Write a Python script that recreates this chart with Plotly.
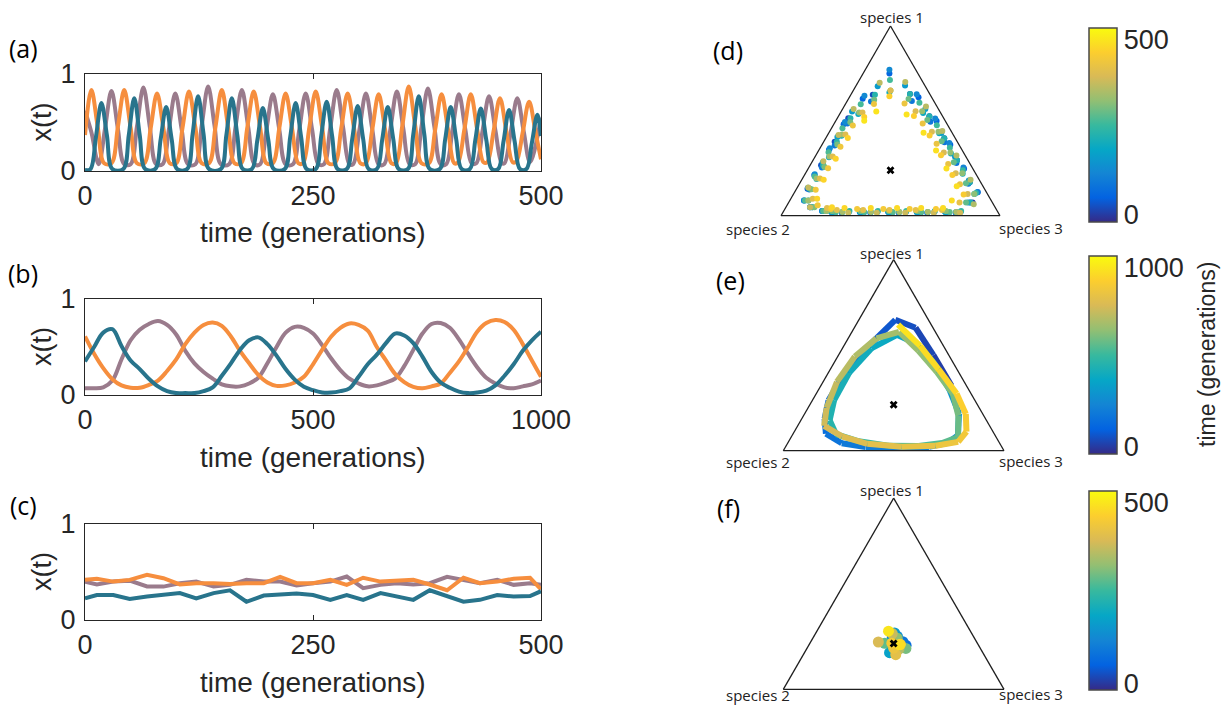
import plotly.graph_objects as go

W, H = 1227, 706

# ---------------- panel (a): time series, 500 generations ----------------
a_purple_t = [0, 7, 15, 22, 29, 36, 43, 50, 57, 64, 71, 78, 85, 92, 99, 106, 113, 121, 128, 135, 142, 149,
              158, 165, 172, 179, 186, 192, 199, 206, 213, 220, 228, 235, 242, 249, 256, 262, 269, 276, 283,
              290, 294, 301, 308, 315, 322, 328, 335, 342, 349, 356, 362, 369, 376, 383, 390, 396, 403, 410,
              417, 424, 429, 436, 443, 450, 457, 460, 467, 474, 481, 488, 500]
a_purple_v = [.62, .40, .07, .44, .825, .44, .07, .07, .46, .86, .46, .07, .07, .43, .80, .43, .07, .07, .47, .87,
              .47, .07, .07, .45, .835, .45, .07, .07, .43, .79, .43, .07, .07, .43, .80, .43, .07, .07, .45, .835,
              .45, .07, .07, .43, .80, .43, .07, .07, .44, .82, .44, .07, .07, .46, .85, .46, .07, .07, .43, .79,
              .43, .08, .08, .42, .77, .42, .08, .08, .41, .75, .41, .09, .55]

a_orange_t = [0, 7, 14, 21, 29, 36, 43, 50, 57, 65, 72, 79, 86, 93, 100, 107, 114, 121, 128, 136, 143, 150,
              157, 164, 171, 178, 185, 192, 199, 206, 213, 220, 227, 234, 239, 246, 253, 260, 267, 274, 281,
              288, 295, 302, 308, 315, 322, 329, 336, 341, 348, 355, 362, 369, 377, 384, 391, 398, 405, 409,
              416, 423, 430, 437, 441, 448, 455, 462, 469, 473, 480, 487, 494, 500]
a_orange_v = [.37, .835, .45, .08, .08, .45, .835, .45, .08, .08, .44, .80, .44, .08, .08, .45, .82, .45, .08,
              .08, .45, .835, .45, .08, .08, .45, .82, .45, .08, .08, .44, .80, .44, .08, .08, .45, .82, .45,
              .08, .08, .44, .80, .44, .08, .08, .43, .79, .43, .08, .08, .47, .87, .47, .08, .08, .43, .79,
              .43, .08, .09, .43, .79, .43, .09, .09, .41, .75, .41, .09, .10, .40, .715, .40, .12]

a_teal_t = [0, 6, 12, 18, 24, 30, 42, 48, 54, 60, 66, 77, 83, 89, 95, 101, 112, 118, 124, 130, 136, 149, 155,
            161, 167, 173, 183, 189, 195, 201, 207, 219, 225, 231, 237, 243, 253, 259, 265, 271, 277, 287,
            293, 299, 305, 311, 320, 326, 332, 338, 344, 354, 360, 366, 372, 378, 389, 395, 401, 407, 413,
            422, 428, 434, 440, 446, 453, 459, 465, 471, 477, 484, 490, 496, 500]
a_teal_v = [.01, .02, .35, .70, .37, .02, .02, .37, .75, .37, .02, .02, .33, .66, .33, .02, .02, .38, .77, .38,
            .02, .02, .37, .75, .37, .02, .02, .32, .65, .32, .02, .02, .35, .70, .35, .02, .02, .36, .715,
            .36, .02, .02, .33, .67, .33, .02, .02, .33, .66, .33, .02, .02, .38, .77, .38, .02, .02, .33,
            .66, .33, .02, .02, .32, .645, .32, .02, .02, .31, .63, .31, .02, .02, .29, .58, .36]

# ---------------- panel (b): time series, 1000 generations ----------------
b_t = [0, 20, 40, 60, 80, 100, 120, 140, 160, 180, 200, 220, 240, 260, 280, 300, 320, 340, 360, 380, 400,
       420, 440, 460, 480, 500, 520, 540, 560, 580, 600, 620, 640, 660, 680, 700, 720, 740, 760, 780, 800,
       820, 840, 860, 880, 900, 920, 940, 960, 980, 1000]
b_teal = [.35, .50, .65, .685, .51, .36, .27, .17, .09, .04, .02, .02, .02, .04, .08, .20, .33, .47, .57, .60,
          .53, .41, .27, .16, .085, .05, .027, .025, .04, .07, .19, .32, .42, .54, .64, .62, .54, .40, .24,
          .13, .075, .035, .02, .025, .045, .10, .20, .32, .46, .57, .66]
b_orange = [.61, .43, .28, .165, .10, .075, .075, .105, .15, .25, .37, .53, .65, .73, .755, .72, .61, .46, .33,
            .21, .13, .095, .10, .13, .19, .32, .47, .61, .70, .745, .73, .67, .50, .36, .22, .135, .085, .07,
            .09, .12, .23, .35, .50, .66, .75, .78, .76, .68, .53, .36, .19]
b_purple = [.07, .07, .08, .15, .37, .57, .68, .74, .77, .73, .63, .46, .33, .24, .17, .11, .09, .09, .12, .18,
            .33, .50, .65, .71, .70, .64, .52, .38, .26, .17, .12, .09, .10, .13, .17, .30, .47, .64, .74,
            .75, .70, .58, .43, .29, .18, .12, .08, .07, .09, .11, .15]

# ---------------- panel (c): time series, 500 generations ----------------
c_t = [0, 13, 31, 49, 68, 86, 104, 122, 141, 159, 177, 196, 214, 232, 250, 269, 287, 305, 324, 342, 360,
       378, 397, 415, 433, 452, 470, 488, 500]
c_teal = [.225, .26, .26, .22, .245, .26, .28, .225, .28, .31, .19, .255, .27, .275, .26, .21, .26, .21, .28,
          .245, .21, .31, .25, .19, .21, .26, .245, .25, .30]
c_orange = [.418, .43, .40, .418, .47, .435, .37, .383, .383, .375, .383, .383, .45, .383, .383, .418, .366,
            .44, .40, .405, .418, .37, .31, .44, .383, .40, .43, .44, .32]
c_purple = [.40, .37, .40, .41, .35, .348, .383, .40, .348, .366, .42, .40, .40, .36, .383, .40, .453, .331,
            .366, .383, .37, .383, .45, .42, .383, .418, .366, .383, .366]

# ---------------- panel (d): sampled states (time, species 1, species 3) ----------------
d_t = [7, 9, 11, 14, 16, 18, 20, 22, 25, 27, 29, 31, 33, 35, 37, 39, 41,
       44, 46, 49, 51, 53, 55, 57, 60, 62, 64, 66, 68, 69, 71, 73, 75, 77,
       79, 81, 83, 86, 88, 90, 92, 94, 97, 99, 101, 103, 105, 107, 109, 111, 113,
       115, 117, 120, 122, 124, 126, 128, 131, 133, 135, 137, 139, 140, 142, 144, 146, 148,
       150, 152, 154, 157, 159, 161, 163, 165, 168, 170, 172, 174, 176, 178, 180, 182, 184,
       186, 188, 191, 193, 195, 197, 199, 202, 204, 206, 208, 210, 211, 213, 215, 217, 219,
       220, 222, 224, 227, 229, 231, 233, 235, 238, 240, 242, 244, 245, 247, 249, 250, 252,
       254, 256, 259, 261, 263, 265, 267, 270, 272, 274, 276, 278, 279, 281, 283, 285, 287,
       288, 290, 292, 295, 297, 299, 301, 303, 306, 308, 310, 312, 313, 315, 317, 319, 321,
       323, 325, 327, 329, 331, 333, 335, 337, 339, 341, 343, 345, 346, 348, 350, 352, 354,
       355, 357, 359, 362, 364, 366, 368, 370, 373, 375, 377, 379, 380, 382, 384, 386, 389,
       392, 394, 396, 398, 400, 402, 404, 406, 408, 410, 412, 414, 415, 417, 419, 420, 422,
       423, 425, 427, 429, 431, 433, 435, 437, 439, 441, 443, 445, 446, 448, 450, 452, 454,
       456, 458, 460, 462, 464, 466, 468, 470, 472, 474, 476, 478, 479, 481, 483, 484, 486,
       487, 489, 491, 493, 495, 497, 499, 500]
d_s1 = [.07, .176, .293, .409, .525, .642, .638, .514, .39, .266, .142, .045, .02, .02, .02, .02, .02,
        .123, .248, .374, .499, .624, .75, .616, .482, .348, .214, .08, .025, .015, .015, .015, .015, .015,
        .07, .169, .278, .387, .496, .605, .602, .486, .37, .254, .138, .045, .02, .02, .02, .02, .02,
        .125, .254, .383, .512, .641, .77, .632, .494, .356, .218, .08, .025, .015, .015, .015, .015, .015,
        .07, .185, .311, .436, .562, .687, .683, .549, .415, .281, .147, .045, .02, .02, .02, .02, .02,
        .114, .221, .328, .435, .542, .65, .536, .422, .308, .194, .08, .025, .02, .02, .02, .02, .02,
        .07, .176, .293, .409, .525, .642, .638, .514, .39, .266, .142, .045, .025, .025, .025, .025, .025,
        .12, .239, .358, .477, .596, .715, .588, .461, .334, .207, .08, .025, .02, .02, .02, .02, .02,
        .07, .171, .282, .393, .504, .615, .611, .493, .375, .257, .139, .045, .025, .025, .025, .025, .025,
        .115, .224, .333, .442, .551, .66, .544, .428, .312, .196, .08, .025, .02, .02, .02, .02, .02,
        .06, .189, .318, .447, .576, .705, .701, .563, .425, .287, .149, .045, .015, .015, .015, .015, .015,
        .115, .224, .333, .442, .551, .66, .544, .428, .312, .196, .09, .04, .03, .03, .03, .03, .03,
        .07, .166, .273, .379, .486, .592, .589, .476, .363, .25, .137, .055, .035, .035, .035, .035, .035,
        .112, .215, .319, .423, .526, .63, .52, .41, .30, .19, .09, .045, .04, .04, .04, .04, .04,
        .08, .155, .249, .344, .438, .533, .55, .50]
d_s3 = [.84, .774, .657, .541, .415, .268, .10, .05, .05, .05, .05, .11, .22, .35, .48, .61, .74,
        .837, .712, .586, .461, .316, .12, .065, .045, .045, .045, .065, .175, .27, .40, .53, .66, .79,
        .82, .771, .662, .553, .434, .295, .11, .06, .06, .06, .06, .12, .30, .43, .56, .69, .81,
        .835, .706, .577, .448, .299, .11, .065, .045, .045, .045, .065, .175, .24, .37, .50, .63, .76,
        .83, .765, .639, .514, .378, .223, .10, .05, .05, .05, .05, .11, .22, .35, .48, .61, .74,
        .826, .719, .612, .505, .378, .17, .085, .065, .065, .065, .085, .195, .27, .40, .53, .66, .79,
        .83, .774, .657, .541, .415, .268, .11, .06, .06, .06, .06, .12, .30, .43, .56, .69, .81,
        .83, .711, .592, .473, .334, .14, .07, .05, .05, .05, .07, .18, .24, .37, .50, .63, .76,
        .81, .759, .648, .537, .416, .275, .12, .07, .07, .07, .07, .13, .22, .35, .48, .61, .74,
        .825, .716, .607, .498, .369, .17, .085, .065, .065, .065, .085, .195, .27, .40, .53, .66, .79,
        .85, .771, .642, .513, .374, .215, .10, .05, .05, .05, .05, .11, .30, .43, .56, .69, .81,
        .795, .686, .577, .468, .339, .17, .10, .08, .08, .08, .10, .19, .24, .36, .48, .60, .72,
        .78, .734, .627, .521, .404, .268, .13, .09, .09, .09, .09, .14, .21, .33, .45, .57, .69,
        .778, .675, .571, .467, .344, .18, .12, .10, .10, .10, .12, .21, .27, .39, .51, .62, .72,
        .74, .725, .631, .536, .432, .307, .16, .13]

# interior fixed point (species 1, species 2, species 3)
fixed_point = [0.24, 0.38, 0.38]

tick_a = [0, 250, 500]
tick_b = [0, 500, 1000]
tick_c = [0, 250, 500]

# ---------------- styles ----------------
C_PURPLE = '#9a7b8c'
C_ORANGE = '#f68e3e'
C_TEAL = '#28748c'
AX = '#262626'
FONT = 'Liberation Sans'
LABFONT = 'Open Sans'

PARULA = [(0.0, '#352a87'), (0.125, '#0363e1'), (0.25, '#1485d4'), (0.375, '#06a7c6'),
          (0.5, '#38b99e'), (0.625, '#92bf73'), (0.75, '#d9ba56'), (0.875, '#fcce2e'),
          (1.0, '#f9fb0e')]
PSCALE = [[f, c] for f, c in PARULA]


def _rgb(h):
    return tuple(int(h[i:i + 2], 16) for i in (1, 3, 5))


def parula(f):
    f = max(0.0, min(1.0, f))
    for (f0, c0), (f1, c1) in zip(PARULA[:-1], PARULA[1:]):
        if f <= f1:
            u = (f - f0) / (f1 - f0) if f1 > f0 else 0
            r0, r1 = _rgb(c0), _rgb(c1)
            return 'rgb(%d,%d,%d)' % tuple(round(a + (b - a) * u) for a, b in zip(r0, r1))
    return PARULA[-1][1]


fig = go.Figure()

series = [
    ('x', 'y', a_purple_t, a_purple_v, C_PURPLE, 'spline'),
    ('x', 'y', a_orange_t, a_orange_v, C_ORANGE, 'spline'),
    ('x', 'y', a_teal_t, a_teal_v, C_TEAL, 'spline'),
    ('x2', 'y2', b_t, b_purple, C_PURPLE, 'spline'),
    ('x2', 'y2', b_t, b_orange, C_ORANGE, 'spline'),
    ('x2', 'y2', b_t, b_teal, C_TEAL, 'spline'),
    ('x3', 'y3', c_t, c_purple, C_PURPLE, 'linear'),
    ('x3', 'y3', c_t, c_orange, C_ORANGE, 'linear'),
    ('x3', 'y3', c_t, c_teal, C_TEAL, 'linear'),
]
for xa, ya, t, v, col, shape in series:
    fig.add_trace(go.Scatter(x=t, y=v, xaxis=xa, yaxis=ya, mode='lines',
                             line=dict(color=col, width=4, shape=shape, smoothing=1.0),
                             hoverinfo='skip', showlegend=False))


def cbar(yc_px, len_px, tickvals):
    return dict(x=1089 / W, xanchor='left', y=1 - yc_px / H, yanchor='middle',
                len=len_px, lenmode='pixels', thickness=28, thicknessmode='pixels',
                outlinewidth=1.5, outlinecolor='#4a4a4a', ticks='', tickvals=tickvals,
                tickfont=dict(family=FONT, size=27, color=AX), xpad=0, ypad=0,
                bgcolor='rgba(0,0,0,0)', borderwidth=0)


# --- (d) dots ---
fig.add_trace(go.Scatterternary(a=d_s1, c=d_s3, subplot='ternary', mode='markers',
                                marker=dict(size=6, color=d_t, colorscale=PSCALE, line=dict(width=0),
                                            cmin=-20, cmax=534, showscale=True,
                                            colorbar=cbar(125, 194, [0, 500])),
                                hoverinfo='skip', showlegend=False))

# --- (e) trajectory coloured by time ---
for i in range(len(b_t) - 1):
    tm = 0.5 * (b_t[i] + b_t[i + 1])
    fig.add_trace(go.Scatterternary(a=b_teal[i:i + 2], b=b_purple[i:i + 2], c=b_orange[i:i + 2],
                                    subplot='ternary2', mode='lines',
                                    line=dict(color=parula((tm + 39) / (1067 + 39)), width=6),
                                    hoverinfo='skip', showlegend=False))
fig.add_trace(go.Scatterternary(a=b_teal, b=b_purple, c=b_orange, subplot='ternary2', mode='markers',
                                marker=dict(size=5, color=b_t, colorscale=PSCALE, line=dict(width=0),
                                            opacity=0, cmin=-39, cmax=1067, showscale=True,
                                            colorbar=cbar(355, 198, [0, 1000])),
                                hoverinfo='skip', showlegend=False))

# --- (f) dots ---
fig.add_trace(go.Scatterternary(a=c_teal, b=c_purple, c=c_orange, subplot='ternary3', mode='markers',
                                marker=dict(size=11, color=c_t, colorscale=PSCALE, line=dict(width=0),
                                            cmin=-19, cmax=533, showscale=True,
                                            colorbar=cbar(590.5, 199, [0, 500])),
                                hoverinfo='skip', showlegend=False))

for sp in ['ternary', 'ternary2', 'ternary3']:
    fig.add_trace(go.Scatterternary(a=[fixed_point[0]], b=[fixed_point[1]], c=[fixed_point[2]],
                                    subplot=sp, mode='markers',
                                    marker=dict(symbol='x', size=7, color='black', line=dict(width=0)),
                                    hoverinfo='skip', showlegend=False))


def xax(x0, x1, tv):
    return dict(domain=[x0 / W, x1 / W], range=[tv[0], tv[-1]], tickvals=tv,
                ticks='inside', ticklen=5, tickcolor=AX, showline=True, linecolor=AX, linewidth=1,
                mirror='ticks', showgrid=False, zeroline=False, ticklabelstandoff=1,
                tickfont=dict(family=FONT, size=27, color=AX))


def yax(top, bot):
    return dict(domain=[1 - bot / H, 1 - top / H], range=[0, 1], tickvals=[0, 1],
                ticks='inside', ticklen=5, tickcolor=AX, showline=True, linecolor=AX, linewidth=1,
                mirror='ticks', showgrid=False, zeroline=False, ticklabelstandoff=3,
                tickfont=dict(family=FONT, size=27, color=AX))


def tern(bl_x, br_x, base_y):
    w = br_x - bl_x
    h = w * 3 ** 0.5 / 2
    axd = dict(showticklabels=False, ticks='', showgrid=False, showline=True,
               linecolor='#1e1e1e', linewidth=1.3, title=dict(text=''))
    return dict(domain=dict(x=[bl_x / W, br_x / W], y=[1 - base_y / H, 1 - (base_y - h) / H]),
                sum=1, bgcolor='white', aaxis=axd, baxis=axd, caxis=axd)


fig.update_layout(
    width=W, height=H, margin=dict(l=0, r=0, t=0, b=0, autoexpand=False),
    paper_bgcolor='white', plot_bgcolor='white', showlegend=False,
    xaxis=dict(xax(85, 541, tick_a), anchor='y'),
    yaxis=dict(yax(74, 171), anchor='x'),
    xaxis2=dict(xax(85, 541, tick_b), anchor='y2'),
    yaxis2=dict(yax(299, 395), anchor='x2'),
    xaxis3=dict(xax(85, 541, tick_c), anchor='y3'),
    yaxis3=dict(yax(524, 620), anchor='x3'),
    ternary=tern(781, 1000, 215.7),
    ternary2=tern(783.3, 1004, 450.7),
    ternary3=tern(783.3, 1004, 689.3),
)

ann = []


def add(text, x, y, size, family, angle=0, color='black'):
    ann.append(dict(text=text, x=x / W, y=1 - y / H, xref='paper', yref='paper',
                    showarrow=False, xanchor='center', yanchor='middle', textangle=angle,
                    font=dict(family=family, size=size, color=color)))


for lab, y in [('(a)', 48), ('(b)', 273), ('(c)', 505)]:
    add(lab, 23, y, 25, LABFONT)
for lab, x, y in [('(d)', 728, 50), ('(e)', 730, 280), ('(f)', 728, 508)]:
    add(lab, x, y, 25, LABFONT)
for yc, yx in [(122.5, 232), (347, 457), (572, 682)]:
    add('x(t)', 42, yc, 27, FONT, angle=-90, color=AX)
    add('time (generations)', 313, yx, 28, FONT, color=AX)
for y1, y2 in [(16.7, 229), (252.7, 462), (490, 695)]:
    add('species 1', 892, y1, 15, LABFONT, color='#222')
    add('species 2', 758, y2, 15, LABFONT, color='#222')
    add('species 3', 1031, y2 - 1, 15, LABFONT, color='#222')
add('time (generations)', 1207, 355, 23, FONT, angle=-90, color=AX)

fig.update_layout(annotations=ann)
fig.write_html('out.html', config={'displayModeBar': False},
               post_script="document.body.style.margin='0px';document.body.style.overflow='hidden';")
